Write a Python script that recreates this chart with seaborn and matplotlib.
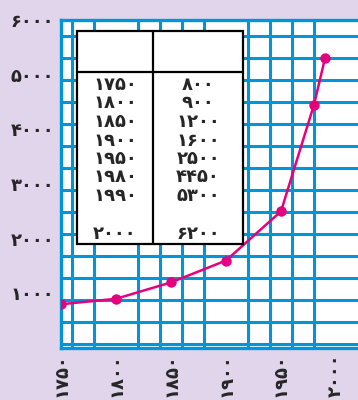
import matplotlib
matplotlib.use("Agg")
import matplotlib.pyplot as plt
from matplotlib.patches import Rectangle
import numpy as np
import pandas as pd
import seaborn as sns

# جمعیت جهان (میلیون نفر)
years = [1750, 1800, 1850, 1900, 1950, 1980, 1990, 2000]
population = [800, 900, 1200, 1600, 2500, 4450, 5300, 6200]
# فقط تا ۱۹۹۰ روی نمودار رسم شده
n_plotted = 7

x_ticks = [1750, 1800, 1850, 1900, 1950, 2000]
y_ticks = [1000, 2000, 3000, 4000, 5000, 6000]

FA = str.maketrans("0123456789", "۰۱۲۳۴۵۶۷۸۹")


def fa(n):
    return str(n).translate(FA)


bg = "#e0d5ea"
blue = "#0095d9"
pink = "#e6007e"
fs = 13

sns.set_style("white")
plt.rcParams["font.family"] = ["DejaVu Sans"]

fig = plt.figure(figsize=(3.58, 4.0), dpi=100, facecolor=bg)
ax = fig.add_axes([61 / 358, 52 / 400, 297 / 358, 328 / 400])
ax.set_facecolor("white")

df = pd.DataFrame({"year": years[:n_plotted], "pop": population[:n_plotted]})
sns.lineplot(data=df, x="year", y="pop", ax=ax, color=pink, linewidth=1.8,
             marker="o", markersize=7.5, markeredgewidth=0, zorder=5)

ax.set_xlim(1750, 2020)
ax.set_ylim(0, 6000)

# شبکه آبی
ax.set_xticks(np.arange(1760, 2020, 20), minor=True)
ax.set_yticks(np.arange(75, 6000, 402), minor=True)
ax.grid(which="minor", color=blue, linewidth=2.2)
ax.grid(which="major", visible=False)
ax.tick_params(which="both", length=0)

ax.set_xticks(x_ticks)
ax.set_xticklabels([fa(v) for v in x_ticks], rotation=90, fontsize=fs,
                   fontweight="bold", va="top")
ax.set_yticks(y_ticks)
ax.set_yticklabels([fa(v) for v in y_ticks], fontsize=fs, fontweight="bold")
ax.tick_params(axis="x", pad=4)
ax.tick_params(axis="y", pad=5)
ax.set_xlabel("")
ax.set_ylabel("")

for side in ["left", "bottom", "top"]:
    ax.spines[side].set_color(blue)
    ax.spines[side].set_linewidth(2.4)
ax.spines["right"].set_visible(False)

# جدول داخل نمودار
tx0, tx1, tmid = 0.054, 0.613, 0.31
ty0, ty1, thead = 0.317, 0.966, 0.841
ax.add_patch(Rectangle((tx0, ty0), tx1 - tx0, ty1 - ty0, transform=ax.transAxes,
                       facecolor="white", edgecolor="black", linewidth=1.6,
                       zorder=10))
ax.plot([tmid, tmid], [ty0, ty1], transform=ax.transAxes, color="black",
        linewidth=1.6, zorder=11)
ax.plot([tx0, tx1], [thead, thead], transform=ax.transAxes, color="black",
        linewidth=1.6, zorder=11)

row_y = [0.802, 0.747, 0.689, 0.631, 0.576, 0.521, 0.463, 0.348]
for yr, p, ry in zip(years, population, row_y):
    ax.text((tx0 + tmid) / 2, ry, fa(yr), transform=ax.transAxes, ha="center",
            va="center", fontsize=fs, fontweight="bold", zorder=12)
    ax.text((tmid + tx1) / 2, ry, fa(p), transform=ax.transAxes, ha="center",
            va="center", fontsize=fs, fontweight="bold", zorder=12)

fig.savefig("out.png", dpi=100, facecolor=bg)
